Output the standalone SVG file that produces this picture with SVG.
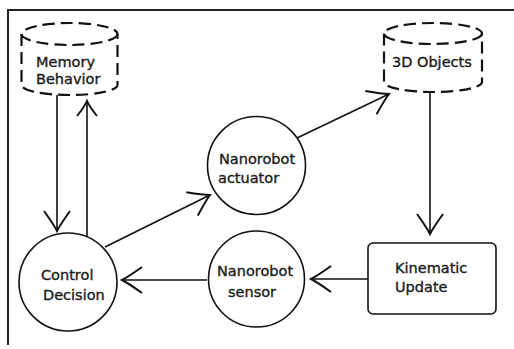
<svg xmlns="http://www.w3.org/2000/svg" width="514" height="349" viewBox="0 0 514 349">
<style>
.frame{fill:none;stroke:#222;stroke-width:2}
.node{fill:#fff;stroke:#111;stroke-width:1.6}
.cyl{fill:none;stroke:#111;stroke-width:2.2;stroke-dasharray:12 6}
.edge{fill:none;stroke:#111;stroke-width:1.6}
text{font-family:"DejaVu Sans",sans-serif;font-size:14.5px;fill:#1a1a1a;stroke:#1a1a1a;stroke-width:0.35}
</style>
<defs>
<marker id="ah" markerUnits="userSpaceOnUse" orient="auto" markerWidth="40" markerHeight="40" refX="0" refY="0" viewBox="-25 -20 30 40" overflow="visible">
<path d="M -20,-13 Q -6,-3 0,0 Q -6,3 -20,13" fill="none" stroke="#111" stroke-width="2"/>
</marker>
<marker id="ahs" markerUnits="userSpaceOnUse" orient="auto" markerWidth="40" markerHeight="40" refX="0" refY="0" viewBox="-25 -20 30 40" overflow="visible">
<path d="M -15,-10 Q -5,-2 0,0 Q -5,2 -15,10" fill="none" stroke="#111" stroke-width="2"/>
</marker>
</defs>
<rect width="514" height="349" fill="#fff"/>
<path class="frame" d="M8,345 V10 H514"/>
<g id="connectors">
<path class="edge" d="M57,95 V231" marker-end="url(#ah)"/>
<path class="edge" d="M87,237 V101" marker-end="url(#ahs)"/>
<path class="edge" d="M105,247 L210,195" marker-end="url(#ah)"/>
<path class="edge" d="M297,138 L389,94" marker-end="url(#ah)"/>
<path class="edge" d="M430,92 V234" marker-end="url(#ah)"/>
<path class="edge" d="M368,279 H311" marker-end="url(#ah)"/>
<path class="edge" d="M207,280 H122" marker-end="url(#ah)"/>
</g>
<g id="memory">
<ellipse class="cyl" cx="69.5" cy="34" rx="48" ry="11"/>
<path class="cyl" d="M21.5,34 V85 A48,10 0 0 0 117.5,85 V34"/>
<text x="36" y="67">Memory</text>
<text x="36" y="84">Behavior</text>
</g>
<g id="objects3d">
<ellipse class="cyl" cx="433" cy="33.5" rx="49" ry="10.5"/>
<path class="cyl" d="M384,33.5 V82 A49,10 0 0 0 482,82 V33.5"/>
<text x="392" y="67">3D Objects</text>
</g>
<g id="actuator">
<circle class="node" cx="256.5" cy="165.5" r="49"/>
<text x="219" y="163.5">Nanorobot</text>
<text x="218" y="183">actuator</text>
</g>
<g id="control">
<circle class="node" cx="68" cy="282" r="49"/>
<text x="41" y="279.5">Control</text>
<text x="43" y="299.5">Decision</text>
</g>
<g id="sensor">
<circle class="node" cx="256.5" cy="279" r="48"/>
<text x="217" y="275.5">Nanorobot</text>
<text x="228" y="297">sensor</text>
</g>
<g id="kinematic">
<rect class="node" x="368" y="243" width="128" height="71" rx="5"/>
<text x="395" y="272.5">Kinematic</text>
<text x="395" y="292">Update</text>
</g>
</svg>
